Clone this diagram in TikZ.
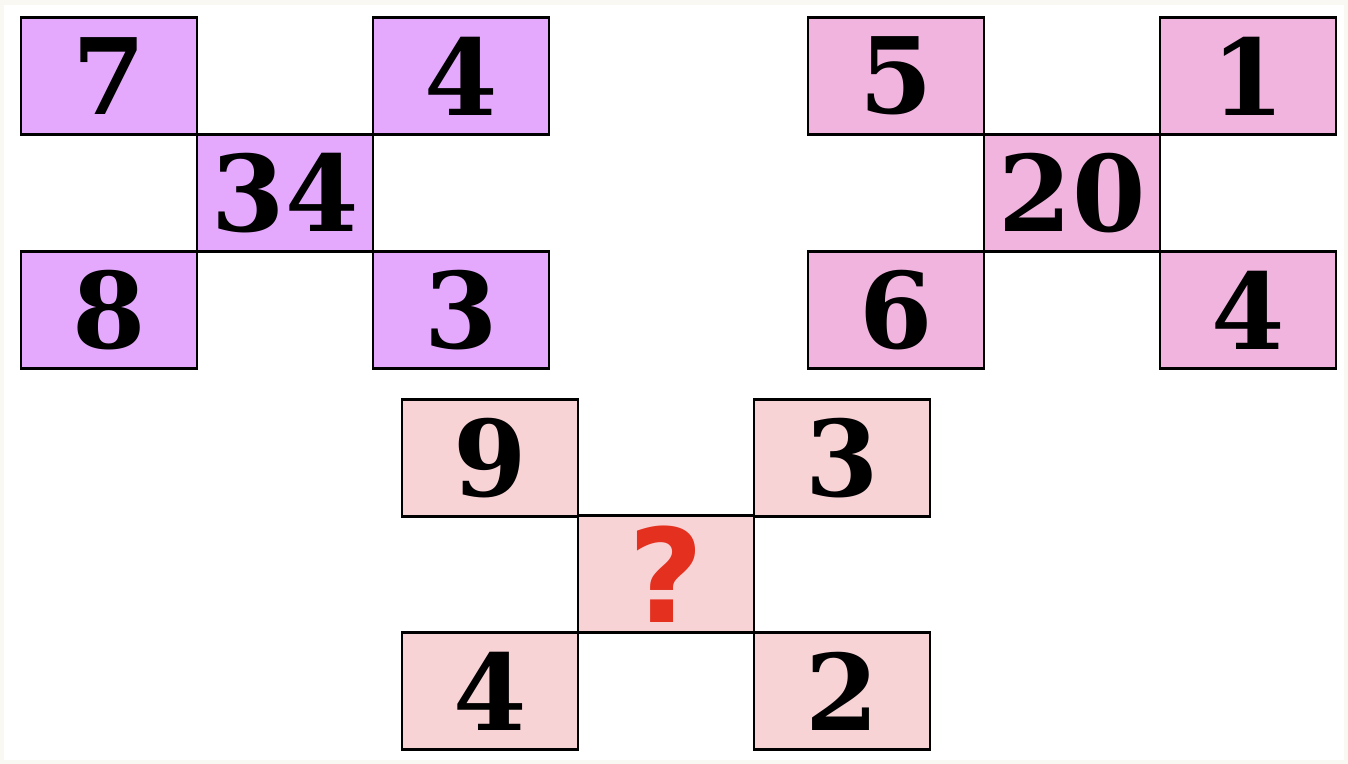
\documentclass[tikz,border=0pt]{standalone}
\usepackage{fontspec}
\setmainfont{DejaVu Serif}
\newfontfamily\qfont{DejaVu Sans}
\usepackage{xcolor}
\usetikzlibrary{positioning}

\definecolor{lilac}{HTML}{E4A9FC}
\definecolor{orchid}{HTML}{F1B4DF}
\definecolor{blush}{HTML}{F8D3D6}
\definecolor{qred}{HTML}{E3301F}
\definecolor{paper}{HTML}{FAF8F3}

\tikzset{
  cell/.style={draw=black, line width=0.75pt, minimum width=1.76cm, minimum height=1.17cm,
    inner sep=0pt, font=\fontsize{30}{34}\selectfont\bfseries},
}

\begin{document}
\begin{tikzpicture}[x=0.01cm,y=-0.01cm]
			% frame
			\fill[paper] (0,0) rectangle (1348,764);
			\fill[white] (4,5) rectangle (1344,760);
			\useasboundingbox (0,0) rectangle (1348,764);

			% Group 1: 7, 4, 8, 3 -> 34
			\node[cell, fill=lilac] (aTL) at (109,76)  {7};
			\node[cell, fill=lilac] (aTR) at (461,76)  {4};
			\node[cell, fill=lilac] (aC)  at (285,193) {34};
			\node[cell, fill=lilac] (aBL) at (109,310) {8};
			\node[cell, fill=lilac] (aBR) at (461,310) {3};

			% Group 2: 5, 1, 6, 4 -> 20
			\node[cell, fill=orchid] (bTL) at (896,76)  {5};
			\node[cell, fill=orchid] (bTR) at (1248,76) {1};
			\node[cell, fill=orchid] (bC)  at (1072,193) {20};
			\node[cell, fill=orchid] (bBL) at (896,310) {6};
			\node[cell, fill=orchid] (bBR) at (1248,310) {4};

			% Group 3: 9, 3, 4, 2 -> ?
			\node[cell, fill=blush] (cTL) at (490,458) {9};
			\node[cell, fill=blush] (cTR) at (842,458) {3};
			\node[cell, fill=blush, text=qred, font=\qfont\fontsize{37}{40}\selectfont\bfseries]
				(cC) at (666,574) {?};
			\node[cell, fill=blush] (cBL) at (490,691) {4};
			\node[cell, fill=blush] (cBR) at (842,691) {2};
\end{tikzpicture}
\end{document}
